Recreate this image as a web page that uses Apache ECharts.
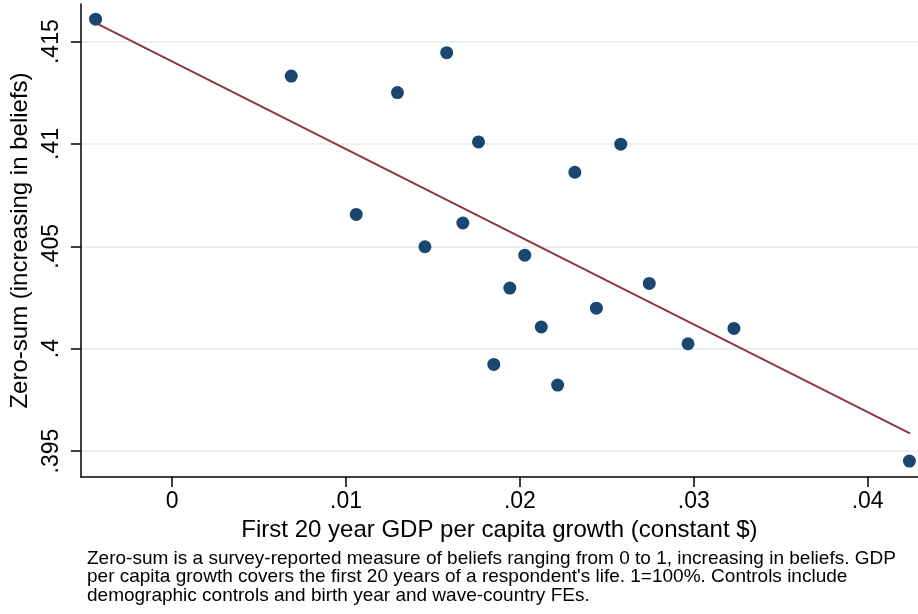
<!DOCTYPE html>
<html>
<head>
<meta charset="utf-8">
<script src="https://cdn.jsdelivr.net/npm/echarts@6/dist/echarts.min.js"></script>
<style>
html,body{margin:0;padding:0;background:#fff;}
#chart{width:918px;height:614px;}
</style>
</head>
<body>
<div id="chart"></div>
<script>
// Data (binned scatter)
const growthX = [-0.0044, 0.00685, 0.01296, 0.01579, 0.01762, 0.02316, 0.0258, 0.01059, 0.01672, 0.01454,
                 0.02028, 0.01942, 0.0244, 0.02123, 0.0185, 0.02217, 0.02744, 0.02967, 0.03231, 0.0424];
const zeroSumY = [0.41610, 0.41332, 0.41251, 0.41446, 0.41010, 0.40862, 0.40999, 0.40656, 0.40614, 0.40498,
                  0.40457, 0.40296, 0.40198, 0.40106, 0.39923, 0.39822, 0.40319, 0.40024, 0.40099, 0.39451];
// Fitted line endpoints
const fitX = [-0.0044, 0.04243];
const fitY = [0.41592, 0.39586];
// Tick values and labels
const xTicks = [0, 0.01, 0.02, 0.03, 0.04];
const xTickLabels = ['0', '.01', '.02', '.03', '.04'];
const yTicks = [0.395, 0.4, 0.405, 0.41, 0.415];
const yTickLabels = ['.395', '.4', '.405', '.41', '.415'];

const xTitle = 'First 20 year GDP per capita growth (constant $)';
const yTitle = 'Zero-sum (increasing in beliefs)';
const noteLines = [
  "Zero-sum is a survey-reported measure of beliefs ranging from 0 to 1, increasing in beliefs. GDP",
  "per capita growth covers the first 20 years of a respondent's life. 1=100%. Controls include",
  "demographic controls and birth year and wave-country FEs."
];

const FONT = "'Liberation Sans', Arial, sans-serif";
function lbl(list, ticks) {
  return function (v) {
    for (let i = 0; i < ticks.length; i++) if (Math.abs(v - ticks[i]) < 1e-9) return list[i];
    return '';
  };
}

const chart = echarts.init(document.getElementById('chart'), null, {renderer: 'canvas'});
chart.setOption({
  animation: false,
  backgroundColor: '#ffffff',
  grid: {left: 78, right: 0, top: 4, bottom: 137, containLabel: false},
  xAxis: {
    type: 'value',
    min: -0.005244, max: 0.042894,
    name: xTitle, nameLocation: 'middle', nameGap: 37,
    nameTextStyle: {fontFamily: FONT, fontSize: 24, color: '#000'},
    axisLine: {show: true, onZero: false, lineStyle: {color: '#000', width: 1.5}},
    axisTick: {show: true, length: 10, customValues: xTicks, lineStyle: {color: '#000', width: 1.5}},
    axisLabel: {customValues: xTicks, formatter: lbl(xTickLabels, xTicks), fontFamily: FONT, fontSize: 23, color: '#000', margin: 13},
    splitLine: {show: false}
  },
  yAxis: {
    type: 'value',
    min: 0.39373, max: 0.41684,
    name: yTitle, nameLocation: 'middle', nameGap: 44, nameRotate: 90,
    nameTextStyle: {fontFamily: FONT, fontSize: 24, color: '#000'},
    axisLine: {show: true, onZero: false, lineStyle: {color: '#000', width: 1.5}},
    axisTick: {show: true, length: 10, customValues: yTicks, lineStyle: {color: '#000', width: 1.5}},
    axisLabel: {customValues: yTicks, formatter: lbl(yTickLabels, yTicks), rotate: 90, fontFamily: FONT, fontSize: 23, color: '#000', margin: 18},
    splitLine: {show: true, lineStyle: {color: '#eaf0f3', width: 2}}
  },
  series: [
    {
      type: 'line',
      data: fitX.map((x, i) => [x, fitY[i]]),
      symbol: 'none',
      lineStyle: {color: '#90353b', width: 2},
      z: 2
    },
    {
      type: 'scatter',
      data: growthX.map((x, i) => [x, zeroSumY[i]]),
      symbol: 'circle',
      symbolSize: 13,
      itemStyle: {color: '#1a476f', opacity: 1},
      z: 3
    }
  ],
  graphic: [{
    type: 'text',
    left: 87, top: 549,
    style: {
      text: noteLines.join('\n'),
      fontFamily: FONT, fontSize: 19, lineHeight: 18.5, fill: '#000'
    }
  }]
});
</script>
</body>
</html>
